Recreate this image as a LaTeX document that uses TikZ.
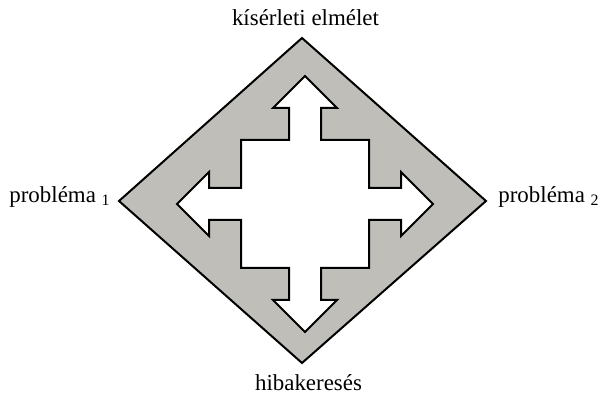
\documentclass[tikz,border=0pt]{standalone}
\usepackage{fontspec}
\setmainfont{Liberation Serif}
\usetikzlibrary{positioning}
\definecolor{panelgray}{RGB}{192,190,185}

\newcommand{\lowidx}[1]{\raisebox{-1.5bp}{\fontsize{8}{9}\selectfont #1}}

\begin{document}
\begin{tikzpicture}[x=0.5bp, y=-0.5bp,
    lbl/.style={inner sep=0pt, font=\fontsize{11.5}{14}\selectfont},
    outline/.style={line width=1bp, line join=miter}]
  \useasboundingbox (0,0) rectangle (599,396);

  % Diamond
  \coordinate (top) at (302,38);
  \coordinate (rgt) at (486,201);
  \coordinate (bot) at (302,363);
  \coordinate (lft) at (119,201);
  \draw[outline, fill=panelgray] (top) -- (rgt) -- (bot) -- (lft) -- cycle;

  % Four-way arrow
  \begin{scope}[shift={(305,204)}, x=8bp, y=-8bp]
    \coordinate (hub) at (0,0);
    \draw[outline, fill=white]
      (0,8) -- (2,6) -- (1,6) -- (1,4) -- (4,4) -- (4,1) -- (6,1) -- (6,2) -- (8,0)
      -- (6,-2) -- (6,-1) -- (4,-1) -- (4,-4) -- (1,-4) -- (1,-6) -- (2,-6) -- (0,-8)
      -- (-2,-6) -- (-1,-6) -- (-1,-4) -- (-4,-4) -- (-4,-1) -- (-6,-1) -- (-6,-2) -- (-8,0)
      -- (-6,2) -- (-6,1) -- (-4,1) -- (-4,4) -- (-1,4) -- (-1,6) -- (-2,6) -- cycle;
  \end{scope}

  % Labels
  \node[lbl, anchor=base] (elmelet) at (305.5,26) {kísérleti elmélet};
  \node[lbl, anchor=base] (hiba) at (308.5,391) {hibakeresés};
  \node[lbl, anchor=base west] (prob1) at (9,203) {probléma \lowidx{1}};
  \node[lbl, anchor=base west] (prob2) at (498,203) {probléma \lowidx{2}};
\end{tikzpicture}
\end{document}
